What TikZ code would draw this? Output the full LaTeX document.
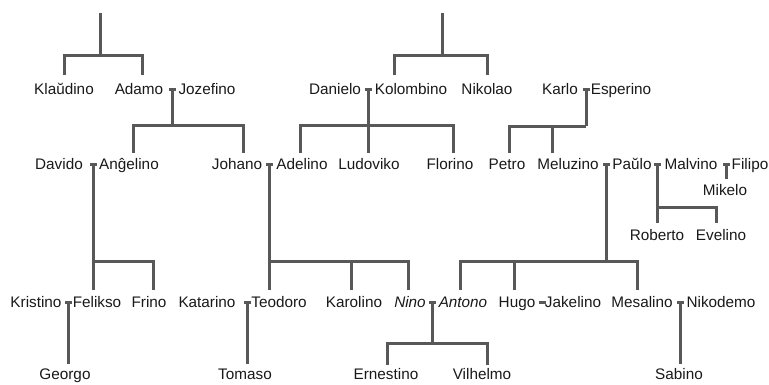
\documentclass[tikz,border=0pt]{standalone}
\usepackage{fontspec}
\setmainfont{Liberation Sans}
\definecolor{kinline}{RGB}{88,88,88}
\definecolor{kintext}{RGB}{25,25,25}
\tikzset{
  who/.style={inner sep=0pt, text height=11pt, text depth=0pt, text=kintext,
    font=\fontsize{15.3}{18}\selectfont},
  wed/.style={fill=kinline, inner sep=0pt, minimum width=7pt, minimum height=3pt},
  kin/.style={draw=kinline, line width=3pt},
}
\begin{document}
\begin{tikzpicture}[x=1pt, y=-1pt]
  \useasboundingbox (0,0) rectangle (769,384);

  % people
  \begin{scope}[every node/.style={who}]
    \node (klaudino) at (64,89) {Klaŭdino} ;
    \node (adamo) at (139,89) {Adamo} ;
    \node (jozefino) at (207,89) {Jozefino} ;
    \node (danielo) at (335,89) {Danielo} ;
    \node (kolombino) at (411,89) {Kolombino} ;
    \node (nikolao) at (487,89) {Nikolao} ;
    \node (karlo) at (560,89) {Karlo} ;
    \node (esperino) at (621,89) {Esperino} ;

    \node (davido) at (59,164) {Davido} ;
    \node (angelino) at (129,164) {Anĝelino} ;
    \node (johano) at (237,164) {Johano} ;
    \node (adelino) at (302,164) {Adelino} ;
    \node (ludoviko) at (369,164) {Ludoviko} ;
    \node (florino) at (450,164) {Florino} ;
    \node (petro) at (507,164) {Petro} ;
    \node (meluzino) at (568,164) {Meluzino} ;
    \node (paulo) at (632,164) {Paŭlo} ;
    \node (malvino) at (691,164) {Malvino} ;
    \node (filipo) at (750,164) {Filipo} ;
    \node (mikelo) at (725,190) {Mikelo} ;
    \node (roberto) at (657,235) {Roberto} ;
    \node (evelino) at (721,235) {Evelino} ;

    \node (kristino) at (36,302) {Kristino} ;
    \node (felikso) at (97,302) {Felikso} ;
    \node (frino) at (149,302) {Frino} ;
    \node (katarino) at (207,302) {Katarino} ;
    \node (teodoro) at (279,302) {Teodoro} ;
    \node (karolino) at (354,302) {Karolino} ;
    \node (nino) at (410,302) {\itshape Nino} ;
    \node (antono) at (463,302) {\itshape Antono} ;
    \node (hugo) at (517,302) {Hugo} ;
    \node (jakelino) at (573,302) {Jakelino} ;
    \node (mesalino) at (642,302) {Mesalino} ;
    \node (nikodemo) at (721,302) {Nikodemo} ;

    \node (georgo) at (65,374) {Georgo} ;
    \node (tomaso) at (245,374) {Tomaso} ;
    \node (ernestino) at (386,374) {Ernestino} ;
    \node (vilhelmo) at (482,374) {Vilhelmo} ;
    \node (sabino) at (679,374) {Sabino} ;
  \end{scope}

  % couples
  \begin{scope}[every node/.style={wed}]
    \node (m1) at (172,89) {} ;
    \node (m2) at (368,89) {} ;
    \node (m3) at (586,89) {} ;
    \node (m4) at (93,164) {} ;
    \node (m5) at (269,164) {} ;
    \node (m6) at (606,164) {} ;
    \node (m7) at (657,164) {} ;
    \node (m8) at (726,164) {} ;
    \node (m9) at (68,302) {} ;
    \node (m10) at (247,302) {} ;
    \node (m11) at (432,302) {} ;
    \node (m12) at (542,302) {} ;
    \node (m13) at (680,302) {} ;
  \end{scope}

  % bus and drop points
  \coordinate (topA) at (100,13) ;
  \coordinate (busA) at (100,55) ;
  \coordinate (dKla) at (64,75) ;
  \coordinate (dAda) at (142,75) ;
  \coordinate (topB) at (442,13) ;
  \coordinate (busB) at (442,55) ;
  \coordinate (dKol) at (394,75) ;
  \coordinate (dNik) at (487,75) ;
  \coordinate (busJ) at (172,125) ;
  \coordinate (dAng) at (133,153) ;
  \coordinate (dJoh) at (243,153) ;
  \coordinate (busK) at (368,125) ;
  \coordinate (dAde) at (300,153) ;
  \coordinate (dLud) at (368,153) ;
  \coordinate (dFlo) at (453,153) ;
  \coordinate (busE) at (586,126) ;
  \coordinate (dPet) at (509,153) ;
  \coordinate (dMel) at (552,153) ;
  \coordinate (dMik) at (726,179) ;
  \coordinate (busR) at (657,207) ;
  \coordinate (dRob) at (657,223) ;
  \coordinate (dEve) at (716,223) ;
  \coordinate (busD) at (93,261) ;
  \coordinate (dFel) at (93,290) ;
  \coordinate (dFri) at (153,290) ;
  \coordinate (busH) at (269,261) ;
  \coordinate (dTeo) at (269,290) ;
  \coordinate (dKar) at (351,290) ;
  \coordinate (dNin) at (408,290) ;
  \coordinate (busP) at (606,261) ;
  \coordinate (dAnt) at (460,290) ;
  \coordinate (dHug) at (514,290) ;
  \coordinate (dMes) at (637,290) ;
  \coordinate (dGeo) at (68,364) ;
  \coordinate (dTom) at (247,364) ;
  \coordinate (busN) at (432,343) ;
  \coordinate (dErn) at (387,365) ;
  \coordinate (dVil) at (487,365) ;
  \coordinate (dSab) at (680,364) ;

  \begin{scope}[kin]
    \draw (topA) to (busA) ;
    \draw (dKla) |- (busA) -| (dAda) ;
    \draw (topB) to (busB) ;
    \draw (dKol) |- (busB) -| (dNik) ;

    \draw (m1) to (busJ) ;
    \draw (dAng) |- (busJ) -| (dJoh) ;
    \draw (m2) to (dLud) ;
    \draw (dAde) |- (busK) -| (dFlo) ;
    \draw (m3) to (busE) ;
    \draw (dPet) |- (busE) ;
    \draw (dMel) to (dMel |- busE) ;

    \draw (m8) to (dMik) ;
    \draw (m7) to (dRob) ;
    \draw (busR) -| (dEve) ;

    \draw (m4) to (dFel) ;
    \draw (busD) -| (dFri) ;
    \draw (m5) to (dTeo) ;
    \draw (dKar) |- (busH) ;
    \draw (busH) -| (dNin) ;
    \draw (m6) to (busP) ;
    \draw (dAnt) |- (busP) -| (dMes) ;
    \draw (dHug) to (dHug |- busP) ;

    \draw (m9) to (dGeo) ;
    \draw (m10) to (dTom) ;
    \draw (m11) to (busN) ;
    \draw (dErn) |- (busN) -| (dVil) ;
    \draw (m13) to (dSab) ;
  \end{scope}
\end{tikzpicture}
\end{document}
